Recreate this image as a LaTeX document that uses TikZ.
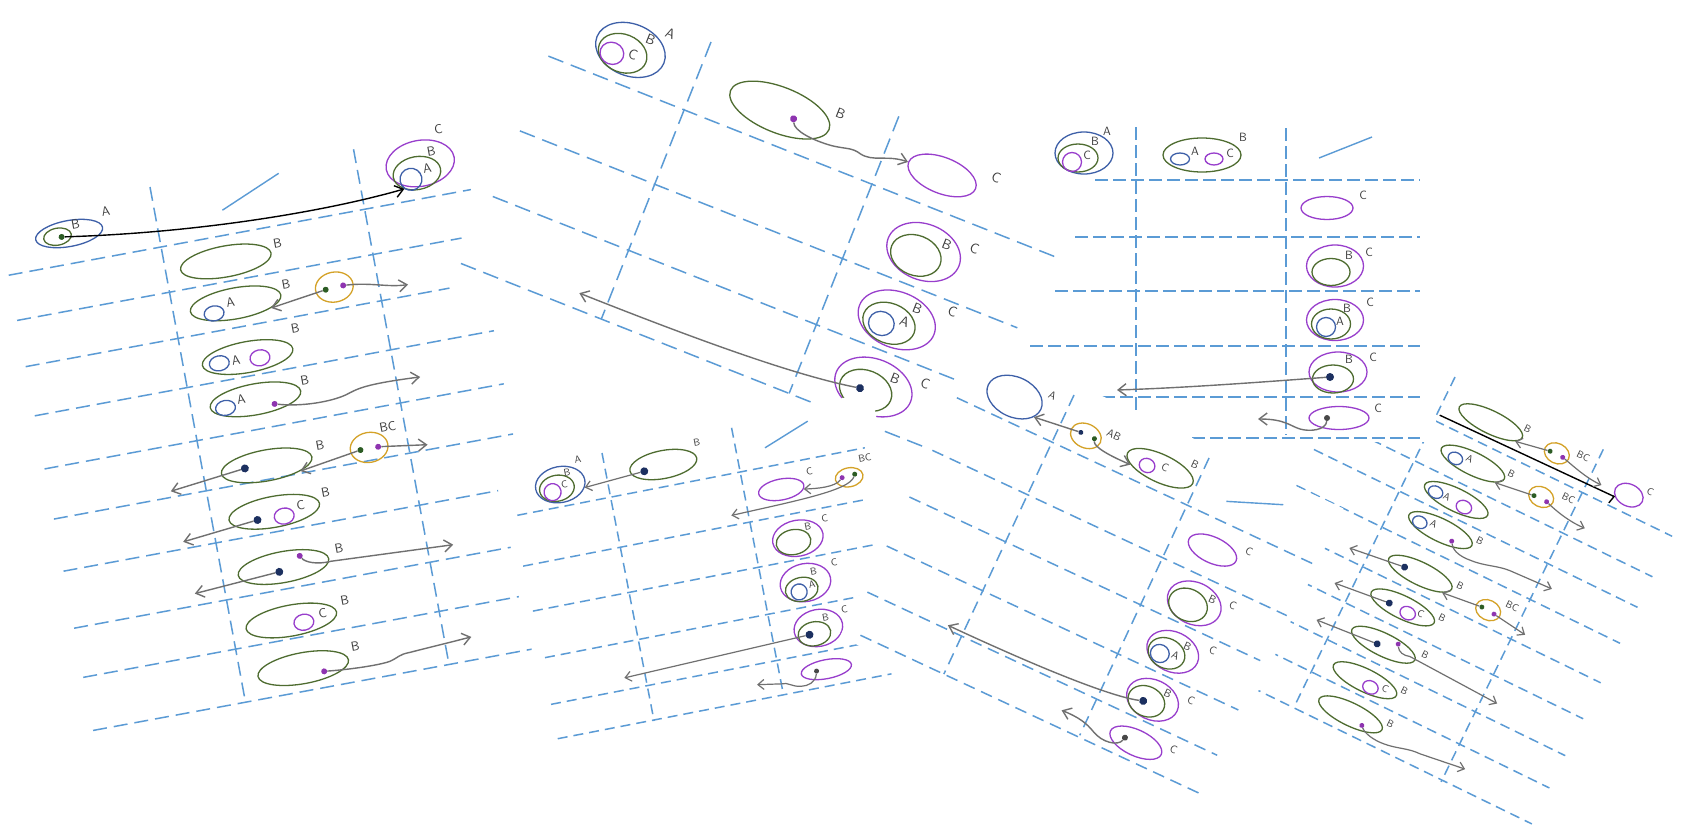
\documentclass[tikz,border=0pt]{standalone}
\usepackage{tikz}
\usetikzlibrary{shapes.geometric, arrows.meta}

\definecolor{cL}{RGB}{91,155,213}
\definecolor{cA}{RGB}{62,96,168}
\definecolor{cB}{RGB}{78,108,48}
\definecolor{cC}{RGB}{152,62,204}
\definecolor{cO}{RGB}{212,162,40}
\definecolor{cG}{RGB}{112,112,112}
\definecolor{cN}{RGB}{28,48,96}
\definecolor{cDg}{RGB}{44,92,36}
\definecolor{cDp}{RGB}{142,52,176}
\definecolor{cK}{RGB}{72,72,72}
\definecolor{cT}{RGB}{60,60,60}

\begin{document}
\begin{tikzpicture}[x=1pt, y=-1pt,
    grid/.style 2 args={draw=cL, line width=1.5pt, dash pattern=on #1pt off #2pt},
    slash/.style={draw=cL, line width=1.4pt},
    ell/.style={ellipse, draw=#1, line width=1.3pt, inner sep=0pt},
    sz/.style 2 args={minimum width=#1pt, minimum height=#2pt},
    dot/.style={circle, fill=#1, inner sep=0pt, minimum size=6pt},
    big/.style={minimum size=8pt},
    lab/.style={font=\sffamily\fontsize{#1}{#1}\selectfont, text=cT, inner sep=0pt},
    lab/.default=13,
    arr/.style={draw=cG, line width=1.4pt, -{Straight Barb[length=8pt, width=12pt]}},
    arrs/.style={draw=cG, line width=1.2pt, -{Straight Barb[length=6pt, width=10pt]}},
    arrK/.style={arr, draw=black},
]
  \fill[white] (0,0) rectangle (1685,838);
  \useasboundingbox (0,0) rectangle (1685,838);

  % right panel, lower
  \begin{scope}[shift={(1455,377)}, rotate=-26, transform shape]
    \foreach \v in {48,93,127,167,211,251,292,328,368}
      \draw[grid={10}{6}] (-95,\v) -- (265,\v);
    \draw[grid={10}{6}] (0,0) -- (0,368);
    \draw[grid={10}{6}] (165,0) -- (165,370);
    \foreach \r/\x/\y in {1/52/25, 2/54/70, 3/55/110, 4/54/144, 5/55/192, 6/54/230, 7/53/272, 8/52/312, 9/54/349}
      \node[ell=cB, sz={70}{23}] (p6r\r) at (\x,\y) {};
    \node[ell=cA, sz={15}{12}] (p6r2a) at (36,73) {};
    \node[ell=cA, sz={15}{12}] (p6r3a) at (33,112) {};
    \node[ell=cC, sz={16}{13}] (p6r3c) at (65,113) {};
    \node[ell=cA, sz={15}{12}] (p6r4a) at (32,146) {};
    \node[ell=cC, sz={16}{13}] (p6r6c) at (61,233) {};
    \node[ell=cC, sz={16}{13}] (p6r8c) at (60,316) {};
    \node[ell=cO, sz={26}{20}] (p6r1o) at (125,24) {};
    \node[ell=cO, sz={26}{20}] (p6r2o) at (130,70) {};
    \node[ell=cO, sz={26}{20}] (p6r5o) at (132,195) {};
    \node[ell=cC, sz={30}{22}] (p6c) at (208,30) {};
    \node[dot=cDg, minimum size=5pt] (p6r1g) at (118,25) {};
    \node[dot=cDp, minimum size=5pt] (p6r1p) at (132,25) {};
    \node[dot=cDg, minimum size=5pt] (p6r2g) at (123,72) {};
    \node[dot=cDp, minimum size=5pt] (p6r2p) at (137,72) {};
    \node[dot=cDp, minimum size=5pt] (p6r4p) at (69,149) {};
    \node[dot=cN, minimum size=7pt] (p6r5n) at (38,193) {};
    \node[dot=cDg, minimum size=5pt] (p6r5g) at (125,195) {};
    \node[dot=cDp, minimum size=5pt] (p6r5p) at (139,196) {};
    \node[dot=cN, minimum size=7pt] (p6r6n) at (40,232) {};
    \node[dot=cN, minimum size=7pt] (p6r7n) at (47,274) {};
    \node[dot=cDp, minimum size=5pt] (p6r7p) at (66,265) {};
    \node[dot=cDp, minimum size=5pt] (p6r9p) at (69,354) {};
    \coordinate (p6s) at (3,41);
    \coordinate (p6t1) at (179,33);
    \coordinate (p6t2) at (183,79);
    \coordinate (p6t4) at (180,148);
    \coordinate (p6t5l) at (-20,200);
    \coordinate (p6t5r) at (176,201);
    \coordinate (p6t6) at (-18,238);
    \coordinate (p6t7l) at (-18,279);
    \coordinate (p6t7r) at (181,275);
    \coordinate (p6t9) at (181,348);
    \draw[arrK, -{Straight Barb[right, length=2pt, width=16pt]}] (p6s) -- (p6c.213);
    \draw[arrs] (p6r1g) -- (p6r1.-12);
    \draw[arrs] (p6r1p) .. controls (145,28) and (160,33) .. (p6t1);
    \draw[arrs] (p6r2g) -- (p6r2.-15);
    \draw[arrs] (p6r2p) .. controls (150,76) and (165,80) .. (p6t2);
    \draw[arrs] (p6r4p) .. controls (75,158) and (85,159) .. (94,158) .. controls (110,157) and (120,151) .. (134,150) -- (p6t4);
    \draw[arrs] (p6r5n) -- (p6t5l);
    \draw[arrs] (p6r5g) -- (p6r5.-15);
    \draw[arrs] (p6r5p) -- (p6t5r);
    \draw[arrs] (p6r6n) -- (p6t6);
    \draw[arrs] (p6r7n) -- (p6t7l);
    \draw[arrs] (p6r7p) .. controls (70,272) and (76,273) .. (82,271) -- (p6t7r);
    \draw[arrs] (p6r9p) .. controls (75,360) and (86,362) .. (96,361) .. controls (110,360) and (120,354) .. (134,354) -- (p6t9);
    \foreach \n/\x/\y/\t in {c/226/18/C, 1b/88/15/B, 1bc/150/15/BC, 2a/49/67/A, 2b/93/62/B, 2bc/155/59/BC,
        3a/45/111/A, 4a/45/141/A, 4b/94/136/B, 5b/96/185/B, 5bc/152/181/BC, 6c/73/228/C, 6b/94/222/B,
        7b/95/263/B, 8c/74/311/C, 8b/92/304/B, 9b/94/340/B}
      \node[lab=10] (p6l\n) at (\x,\y) {\t};
  \end{scope}

  % right panel, upper
  \begin{scope}
    \fill[white] (1025,112) rectangle (1436,442);
    \foreach \y/\s in {180/1095, 237/1075, 291/1055, 346/1030, 397/1030, 438/1030}
      \draw[grid={13}{5}] (\s,\y) -- (1420,\y);
    \draw[grid={13}{5}] (1136,127) -- (1136,440);
    \draw[grid={13}{5}] (1286,128) -- (1286,435);
    \draw[slash] (1319,158) -- (1372,137);
    \node[ell=cA, sz={58}{42}] (p3a) at (1084,153) {};
    \node[ell=cB, sz={40}{28}] (p3ab) at (1078,158) {};
    \node[ell=cC, sz={19}{19}] (p3ac) at (1072,162) {};
    \node[ell=cB, sz={78}{34}] (p3b) at (1202,155) {};
    \node[ell=cA, sz={19}{12}] (p3ba) at (1180,159) {};
    \node[ell=cC, sz={18}{12}] (p3bc) at (1214,159) {};
    \node[ell=cC, sz={52}{23}] (p3r1) at (1327,208) {};
    \node[ell=cC, sz={57}{42}] (p3r2) at (1335,266) {};
    \node[ell=cB, sz={38}{27}] (p3r2b) at (1331,272) {};
    \node[ell=cC, sz={57}{41}] (p3r3) at (1335,320) {};
    \node[ell=cB, sz={39}{30}] (p3r3b) at (1331,324) {};
    \node[ell=cA, sz={19}{19}] (p3r3a) at (1326,327) {};
    \node[ell=cC, sz={58}{40}] (p3r4) at (1338,372) {};
    \node[ell=cB, sz={41}{28}] (p3r4b) at (1333,379) {};
    \node[dot=cN, big] (p3r4n) at (1330,377) {};
    \node[ell=cC, sz={60}{23}] (p3r5) at (1339,418) {};
    \node[dot=cK] (p3r5k) at (1327,418) {};
    \coordinate (p3t4) at (1117,390);
    \coordinate (p3t5) at (1258,419);
    \draw[arr] (p3r4n) .. controls (1250,383) and (1180,388) .. (p3t4);
    \draw[arr] (p3r5k) .. controls (1326,430) and (1310,432) .. (1300,429) .. controls (1290,426) and (1285,419) .. (p3t5);
    \foreach \n/\x/\y/\t in {ha/1107/131/A, hb/1095/141/B, hc/1087/155/C, ba/1195/151/A, bc/1230/153/C, bb/1243/137/B,
        1c/1363/195/C, 2b/1349/255/B, 2c/1369/252/C, 3a/1340/321/A, 3b/1347/308/B, 3c/1370/302/C,
        4b/1349/359/B, 4c/1373/357/C, 5c/1378/408/C}
      \node[lab=12] (p3l\n) at (\x,\y) {\t};
  \end{scope}

  % left panel
  \begin{scope}[shift={(150,187)}, rotate=10.5, transform shape]
    \foreach \v/\e in {61/315, 107/297, 154/276, 204/312, 258/312, 309/312, 362/287, 420/289, 470/288, 524/291}
      \draw[grid={14}{7}] (-155,\v) -- (\e,\v);
    \draw[grid={14}{7}] (0,0) -- (0,522);
    \draw[grid={14}{7}] (207,0) -- (207,522);
    \draw[slash] (67,36) -- (129,10);
    \node[ell=cA, sz={68}{26}] (p1a) at (-88,31) {};
    \node[ell=cB, sz={28}{17}] (p1ab) at (-100,32) {};
    \node[dot=cDg] (p1d) at (-96,33) {};
    \node[ell=cC, sz={69}{46}] (p1c) at (270,26) {};
    \node[ell=cB, sz={48}{33}] (p1cb) at (265,35) {};
    \node[ell=cA, sz={22}{22}] (p1ca) at (258,40) {};
    \draw[arrK] (p1d) .. controls (40,54) and (170,56) .. (p1ca.225);
    \foreach \r/\x/\y in {1/61/87, 2/63/130, 3/65/185, 4/65/228, 5/64/295, 6/63/342, 7/62/398, 8/60/452, 9/63/501}
      \node[ell=cB, sz={92}{31}] (p1r\r) at (\x,\y) {};
    \node[ell=cA, sz={20}{15}] (p1r2a) at (40,136) {};
    \node[ell=cA, sz={20}{15}] (p1r3a) at (36,186) {};
    \node[ell=cC, sz={20}{16}] (p1r3c) at (77,188) {};
    \node[ell=cA, sz={20}{15}] (p1r4a) at (34,231) {};
    \node[ell=cC, sz={20}{16}] (p1r6c) at (72,348) {};
    \node[ell=cC, sz={20}{16}] (p1r8c) at (72,456) {};
    \node[ell=cO, sz={38}{30}] (p1r2o) at (163,132) {};
    \node[ell=cO, sz={38}{30}] (p1r5o) at (168,296) {};
    \node[dot=cDg] (p1r2g) at (154,133) {};
    \node[dot=cDp] (p1r2p) at (172,132) {};
    \node[dot=cDp] (p1r4p) at (83,236) {};
    \node[dot=cN, big] (p1r5n) at (42,294) {};
    \node[dot=cDg] (p1r5g) at (159,297) {};
    \node[dot=cDp] (p1r5p) at (177,297) {};
    \node[dot=cN, big] (p1r6n) at (45,347) {};
    \node[dot=cN, big] (p1r7n) at (57,402) {};
    \node[dot=cDp] (p1r7p) at (80,390) {};
    \node[dot=cDp] (p1r9p) at (83,508) {};
    \coordinate (p1t2) at (236,143);
    \coordinate (p1t4) at (231,236);
    \coordinate (p1t5l) at (-35,303);
    \coordinate (p1t5r) at (226,304);
    \coordinate (p1t6) at (-32,355);
    \coordinate (p1t7l) at (-30,408);
    \coordinate (p1t7r) at (233,407);
    \coordinate (p1t9) at (234,501);
    \draw[arr] (p1r2g) -- (p1r2.-18);
    \draw[arr] (p1r2p) .. controls (200,134) and (215,142) .. (p1t2);
    \draw[arr] (p1r4p) .. controls (110,244) and (140,244) .. (155,240) .. controls (168,236) and (175,233) .. (p1t4);
    \draw[arr] (p1r5n) -- (p1t5l);
    \draw[arr] (p1r5g) -- (p1r5.-20);
    \draw[arr] (p1r5p) -- (p1t5r);
    \draw[arr] (p1r6n) -- (p1t6);
    \draw[arr] (p1r7n) -- (p1t7l);
    \draw[arr] (p1r7p) .. controls (84,397) and (95,402) .. (110,401) -- (p1t7r);
    \draw[arr] (p1r9p) .. controls (110,511) and (140,512) .. (150,510) .. controls (158,508) and (160,505) .. (170,505) -- (p1t9);
    \foreach \n/\x/\y/\t in {ha/-48/16/A, hb/-80/23/B, hc/294/-4/C, hcb/283/16/B, hca/276/32/A,
        1b/115/79/B, 2a/58/128/A, 2b/116/120/B, 3a/53/186/A, 3b/117/165/B, 4a/51/225/A, 4b/117/218/B,
        5b/120/285/B, 5bc/190/279/BC, 6c/90/340/C, 6b/117/332/B, 7b/120/390/B, 8c/92/451/C, 8b/116/442/B, 9b/118/489/B}
      \node[lab] (p1l\n) at (\x,\y) {\t};
  \end{scope}

  % top middle panel
  \begin{scope}[shift={(711,42)}, rotate=-21.6, transform shape]
    \foreach \v/\s/\e in {73/-146/401, 153/-145/390, 224/-146/400, 298/-151/400}
      \draw[grid={16}{8}] (\s,\v) -- (\e,\v);
    \draw[grid={16}{8}] (0,0) -- (0,298);
    \draw[grid={16}{8}] (202,0) -- (202,298);
    \node[ell=cA, sz={72}{52}] (p2a) at (-72,37) {};
    \node[ell=cB, sz={50}{38}] (p2ab) at (-78,43) {};
    \node[ell=cC, sz={24}{22}] (p2ac) at (-88,47) {};
    \node[ell=cB, sz={106}{46}] (p2b) at (89,38) {};
    \node[dot=cDp, minimum size=7pt] (p2bp) at (105,41) {};
    \node[ell=cC, sz={72}{36}] (p2c) at (264,39) {};
    \draw[arr] (p2bp) .. controls (110,52) and (130,54) .. (150,52) .. controls (165,50) and (170,46) .. (180,49) .. controls (195,52) and (205,40) .. (p2c.west);
    \node[ell=cC, sz={76}{56}] (p2r2) at (275,117) {};
    \node[ell=cB, sz={52}{40}] (p2r2b) at (269,123) {};
    \node[ell=cC, sz={80}{56}] (p2r3) at (275,190) {};
    \node[ell=cB, sz={54}{40}] (p2r3b) at (269,196) {};
    \node[ell=cA, sz={26}{24}] (p2r3a) at (262,199) {};
    \node[ell=cC, sz={80}{56}] (p2r4) at (278,261) {};
    \node[ell=cB, sz={54}{40}] (p2r4b) at (272,267) {};
    \node[dot=cN, big] (p2r4n) at (266,267) {};
    \coordinate (p2t4) at (-30,282);
    \draw[arr] (p2r4n) .. controls (200,279) and (100,282) .. (p2t4);
    \foreach \n/\x/\y/\t in {ha/-41/7/A, hb/-57/20/B, hc/-68/40/C, bb/147/19/B, cc/315/21/C,
        2b/294/102/B, 2c/321/95/C, 3a/283/189/A, 3b/290/172/B, 3c/324/162/C, 4b/295/245/B, 4c/325/239/C}
      \node[lab=14] (p2l\n) at (\x,\y) {\t};
  \end{scope}

  % bottom middle panel
  \begin{scope}[shift={(602,453)}, rotate=11, transform shape]
    \fill[white] (-100,-8) rectangle (276,285);
    \foreach \v/\s/\e in {45/-95/259, 96/-99/252, 142/-98/252, 190/-95/252, 237/-98/252, 272/-98/242}
      \draw[grid={10}{6}] (\s,\v) -- (\e,\v);
    \draw[grid={10}{6}] (0,0) -- (0,273);
    \draw[grid={10}{6}] (132,0) -- (132,270);
    \draw[slash] (161,26) -- (208,8);
    \node[ell=cA, sz={50}{36}] (p4a) at (-47,23) {};
    \node[ell=cB, sz={35}{26}] (p4ab) at (-51,26) {};
    \node[ell=cC, sz={17}{17}] (p4ac) at (-56,29) {};
    \node[ell=cB, sz={68}{28}] (p4b) at (58,23) {};
    \node[dot=cN, big] (p4bn) at (38,26) {};
    \draw[arrs] (p4bn) -- (p4a.-18);
    \node[ell=cC, sz={46}{21}] (p4r1) at (169,70) {};
    \node[ell=cO, sz={28}{19}] (p4r1o) at (238,71) {};
    \node[dot=cDp, minimum size=5pt] (p4r1p) at (231,70) {};
    \node[dot=cDg, minimum size=5pt] (p4r1g) at (244,69) {};
    \coordinate (p4t1) at (115,86);
    \draw[arrs] (p4r1p) .. controls (222,78) and (205,76) .. (p4r1.-10);
    \draw[arrs] (p4r1g) .. controls (236,84) and (180,84) .. (p4t1);
    \node[ell=cC, sz={51}{36}] (p4r2) at (176,121) {};
    \node[ell=cB, sz={35}{25}] (p4r2b) at (171,124) {};
    \node[ell=cC, sz={51}{38}] (p4r3) at (175,166) {};
    \node[ell=cB, sz={33}{24}] (p4r3b) at (170,172) {};
    \node[ell=cA, sz={16}{16}] (p4r3a) at (167,174) {};
    \node[ell=cC, sz={49}{37}] (p4r4) at (179,213) {};
    \node[ell=cB, sz={33}{24}] (p4r4b) at (174,218) {};
    \node[dot=cN, big] (p4r4n) at (169,218) {};
    \coordinate (p4t4) at (-21,225);
    \draw[arrs] (p4r4n) -- (p4t4);
    \node[ell=cC, sz={51}{19}] (p4r5) at (179,255) {};
    \node[dot=cK, minimum size=5pt] (p4r5k) at (169,255) {};
    \coordinate (p4t5) at (108,257);
    \draw[arrs] (p4r5k) .. controls (166,266) and (158,268) .. (151,267) .. controls (142,266) and (138,260) .. (133,261) -- (p4t5);
    \foreach \n/\x/\y/\t in {ha/-25/2/A, hb/-38/12/B, hc/-43/24/C, bb/95/8/B, 1c/200/58/C, 1bc/257/55/BC,
        2b/188/111/B, 2c/206/107/C, 3a/181/169/A, 3b/185/157/B, 3c/207/152/C, 4b/188/204/B, 4c/208/200/C}
      \node[lab=10] (p4l\n) at (\x,\y) {\t};
  \end{scope}

  % bottom right panel
  \begin{scope}[shift={(1074,395)}, rotate=-25, transform shape]
    \fill[white] (-110,-11) rectangle (292,318);
    \foreach \v/\s/\e in {52/-105/291, 110/-105/286, 162/-106/281, 216/-106/282, 266/-104/282, 308/-92/283}
      \draw[grid={12}{7}] (\s,\v) -- (\e,\v);
    \draw[grid={12}{7}] (0,0) -- (0,308);
    \draw[grid={12}{7}] (149,0) -- (149,306);
    \draw[slash] (183,32) -- (236,11);
    \node[ell=cA, sz={58}{40}] (p5a) at (-53,27) {};
    \node[ell=cO, sz={32}{24}] (p5o) at (28,32) {};
    \node[dot=cN, minimum size=5pt] (p5on) at (22,31) {};
    \node[dot=cDg, minimum size=5pt] (p5og) at (37,31) {};
    \node[ell=cB, sz={72}{28}] (p5b) at (109,30) {};
    \node[ell=cC, sz={16}{14}] (p5bc) at (96,33) {};
    \draw[arr] (p5on) -- (p5a.-21);
    \draw[arr] (p5og) .. controls (40,39) and (60,40) .. (p5b.198);
    \node[ell=cC, sz={52}{26}] (p5r1) at (191,82) {};
    \node[ell=cC, sz={56}{42}] (p5r2) at (197,138) {};
    \node[ell=cB, sz={40}{32}] (p5r2b) at (192,142) {};
    \node[ell=cC, sz={54}{40}] (p5r3) at (198,191) {};
    \node[ell=cB, sz={38}{30}] (p5r3b) at (193,195) {};
    \node[ell=cA, sz={19}{18}] (p5r3a) at (187,198) {};
    \node[ell=cC, sz={54}{40}] (p5r4) at (200,243) {};
    \node[ell=cB, sz={38}{30}] (p5r4b) at (195,247) {};
    \node[dot=cN, big] (p5r4n) at (192,248) {};
    \coordinate (p5t4) at (-17,262);
    \draw[arr] (p5r4n) .. controls (160,258) and (80,262) .. (p5t4);
    \node[ell=cC, sz={56}{26}] (p5r5) at (203,289) {};
    \node[dot=cK] (p5r5k) at (191,289) {};
    \coordinate (p5t5) at (122,291);
    \draw[arr] (p5r5k) .. controls (188,300) and (172,303) .. (160,297) .. controls (150,292) and (140,290) .. (p5t5);
    \foreach \n/\x/\y/\t in {ha/-19/10/A, hab/53/19/AB, hc/113/27/C, hb/139/12/B, 1c/225/68/C,
        2b/212/127/B, 2c/233/124/C, 3a/202/193/A, 3b/209/180/B, 3c/234/173/C, 4b/211/231/B, 4c/235/227/C, 5c/240/279/C}
      \node[lab=11] (p5l\n) at (\x,\y) {\t};
  \end{scope}
\end{tikzpicture}
\end{document}
